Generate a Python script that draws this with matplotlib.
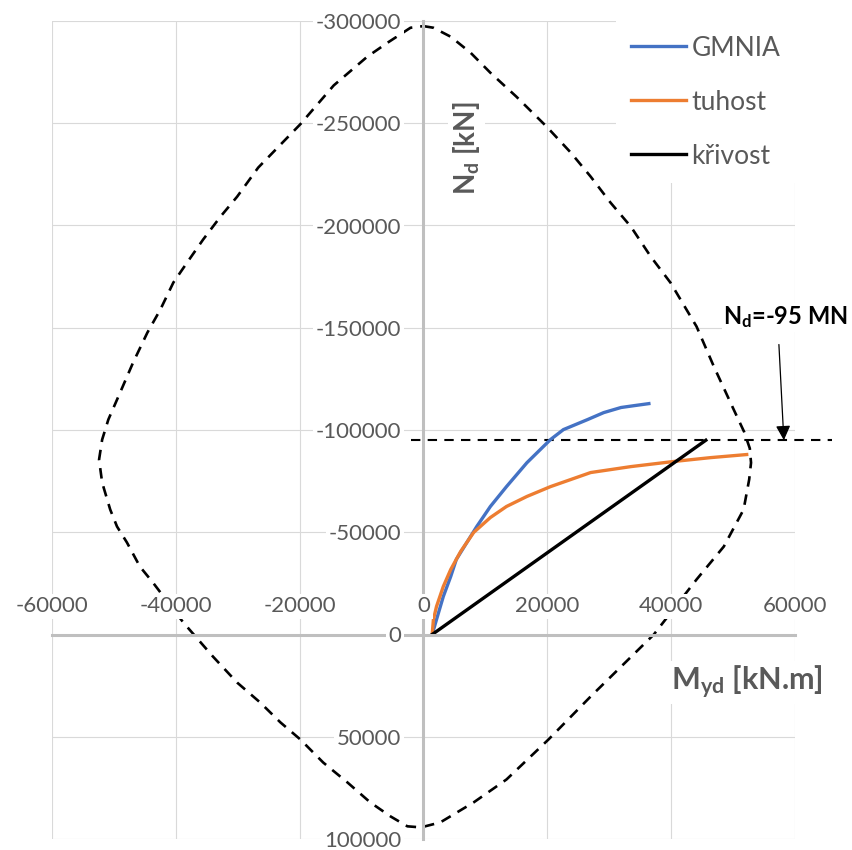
import matplotlib
matplotlib.use("Agg")
import matplotlib.pyplot as plt

plt.rcParams['font.family'] = ['Lato', 'DejaVu Sans']
plt.rcParams['mathtext.fontset'] = 'custom'
plt.rcParams['mathtext.rm'] = 'Lato'
plt.rcParams['mathtext.bf'] = 'Lato:bold'
plt.rcParams['mathtext.it'] = 'Lato:italic'

# interaction diagram (dashed envelope), clockwise from the top
env_m = [0, 1600, 4400, 7600, 10800, 15000, 19900, 23800, 27000, 30200,
         33500, 36700, 39900, 44100, 46900, 50100, 51800, 52700, 52900, 52600,
         51700, 48500, 44100, 37200, 27000, 20200, 13400, 8100, 2700, 0,
         -500, -2600, -5300, -8600, -12300, -16200, -19900, -23100, -26400, -30100,
         -34000, -38800, -43700, -45800, -47900, -49500, -50600, -51900, -52400,
         -51900, -50900, -49000, -46900, -44600, -42500, -40400, -38200, -35600, -32800,
         -30100, -26700, -19900, -14500, -9100, -5800, -2100, 0]
env_n = [-297500, -296700, -292300, -284500, -274700, -263000, -248300, -235600, -223900, -211200,
         -199400, -184800, -172000, -150600, -131000, -110000, -99000, -91000, -84000, -75800,
         -61100, -43000, -26900, 0, 30300, 51300, 70900, 82100, 91900, 94000,
         94300, 93800, 89000, 82100, 72300, 62600, 51300, 43000, 33200, 23500,
         10800, -5900, -25400, -33200, -45000, -52800, -61100, -74300, -85500,
         -95300, -105100, -118300, -133000, -147600, -158900, -172100, -181800, -193100, -204300,
         -214100, -228300, -249500, -268500, -282500, -289400, -296700, -297500]

gmnia_m = [1400, 2100, 3200, 4400, 5300, 7000, 8600, 10800, 13400, 16700,
           20500, 22600, 26500, 29100, 31900, 34000, 36400]
gmnia_n = [0, -7300, -18600, -28400, -36700, -45000, -52800, -62600, -72300, -84000,
           -95300, -100200, -105100, -108500, -111000, -111900, -112900]

tuhost_m = [1400, 1600, 2100, 3200, 4400, 6000, 8100, 10800, 13400, 16700,
            20500, 23800, 27000, 33500, 40400, 46400, 52200]
tuhost_n = [0, -7300, -13700, -23500, -31800, -40600, -49900, -57200, -62600, -67500,
            -72300, -75800, -79200, -82100, -84600, -86500, -88000]

krivost_m = [1400, 45600]
krivost_n = [0, -95000]

nd_level = -95000
nd_line_m = [-2000, 66000]

xticks = [-60000, -40000, -20000, 0, 20000, 40000, 60000]
yticks = [-300000, -250000, -200000, -150000, -100000, -50000, 0, 50000, 100000]

grey_txt = '#595959'
grid_col = '#d9d9d9'
axis_col = '#bfbfbf'

fig = plt.figure(figsize=(8.53, 8.5), dpi=100)
ax = fig.add_axes([52 / 853, 1 - 839 / 850, (795 - 52) / 853, (839 - 21) / 850])

# gridlines drawn by hand so they stay under the data
for x in xticks:
    ax.axvline(x, color=grid_col, lw=0.8, zorder=0.5)
for y in yticks:
    ax.axhline(y, color=grid_col, lw=0.8, zorder=0.5)

ax.plot(env_m, env_n, color='black', lw=1.9, dashes=(4, 3), zorder=2)
ax.plot(nd_line_m, [nd_level, nd_level], color='black', lw=1.5, dashes=(4.5, 3.5),
        clip_on=False, zorder=2)
ax.plot(gmnia_m, gmnia_n, color='#4472C4', lw=2.4, label='GMNIA', zorder=2.1,
        solid_joinstyle='round')
ax.plot(tuhost_m, tuhost_n, color='#ED7D31', lw=2.4, label='tuhost', zorder=2.2,
        solid_joinstyle='round')
ax.plot(krivost_m, krivost_n, color='black', lw=2.4, label='křivost', zorder=2.2)

ax.set_xlim(-60000, 60000)
ax.set_ylim(100000, -300000)

ax.spines['left'].set_position(('data', 0))
ax.spines['top'].set_position(('data', 0))
ax.spines['right'].set_visible(False)
ax.spines['bottom'].set_visible(False)
for s in ('left', 'top'):
    ax.spines[s].set_color(axis_col)
    ax.spines[s].set_linewidth(2.2)
ax.set_axisbelow(False)
ax.set_facecolor('white')

ax.xaxis.tick_top()
ax.set_xticks(xticks)
ax.set_xticklabels([str(v) for v in xticks])
ax.set_yticks(yticks)
ax.set_yticklabels([str(v) for v in yticks])
ax.tick_params(axis='both', length=0, labelsize=16, labelcolor=grey_txt)
ax.tick_params(axis='x', pad=13)
ax.tick_params(axis='y', pad=16)
for lbl in ax.get_xticklabels() + ax.get_yticklabels():
    lbl.set_bbox(dict(facecolor='white', edgecolor='none', pad=2))

ax.text(6950, -238000, r'N$_\mathbf{d}$ [kN]', rotation=90, ha='center', va='center',
        fontsize=20, fontweight='bold', color=grey_txt,
        bbox=dict(facecolor='white', edgecolor='none', pad=2))
ax.text(52300, 23500, r'M$_\mathbf{yd}$ [kN.m]', ha='center', va='center',
        fontsize=22, fontweight='bold', color=grey_txt, clip_on=False,
        bbox=dict(facecolor='white', edgecolor='none', pad=2))

ax.annotate('', xy=(58200, nd_level), xytext=(57400, -141800),
            arrowprops=dict(arrowstyle='-|>', color='black', lw=0.9,
                            mutation_scale=22, shrinkA=0, shrinkB=0),
            annotation_clip=False)
ax.text(58500, -155000, r'N$_\mathbf{d}$=-95 MN', ha='center', va='center',
        fontsize=17, fontweight='bold', color='black', clip_on=False,
        bbox=dict(facecolor='white', edgecolor='none', pad=1))

leg = ax.legend(loc='upper right', bbox_to_anchor=(1.0, 1.0), borderaxespad=0,
                fontsize=19, frameon=True, fancybox=False, framealpha=1,
                edgecolor='none', facecolor='white', handlelength=2.1,
                handletextpad=0.2, labelspacing=1.1, borderpad=0.55)
for t in leg.get_texts():
    t.set_color(grey_txt)

fig.savefig('out.png', dpi=100)
